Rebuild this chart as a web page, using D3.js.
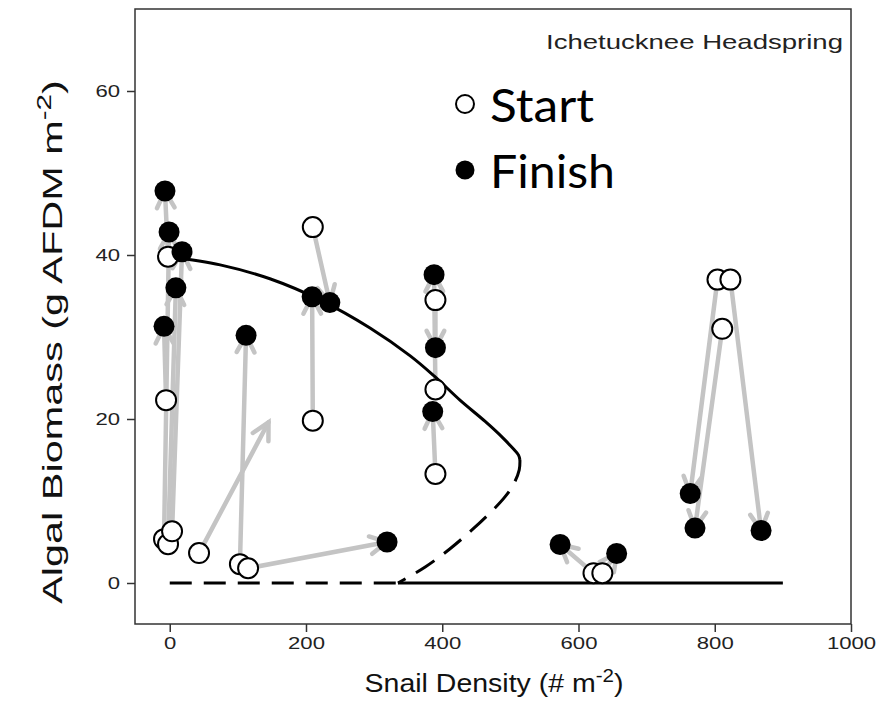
<!DOCTYPE html>
<html><head><meta charset="utf-8">
<script src="https://cdn.jsdelivr.net/npm/d3@7/dist/d3.min.js"></script>
<style>body{margin:0;background:#fff}svg{display:block}</style>
</head><body>
<svg id="c" width="882" height="721"></svg>
<script>
// ---- data ----
const xTicks = [0, 200, 400, 600, 800, 1000];
const yTicks = [0, 20, 40, 60];
// start (open) points [snail density, biomass]
const startX = [-2.5, -5.4, -8.4, -2.5, 3.4, 43, 103, 115, 210, 210, 390, 390, 390, 622, 635, 804, 823, 811];
const startY = [39.8, 22.3, 5.35, 4.74, 6.3, 3.65, 2.3, 1.8, 43.4, 19.8, 34.5, 23.6, 13.3, 1.2, 1.2, 37, 37, 31];
// finish (filled) points
const finishX = [-7, -1, 18, 9, -8.4, 112, 209, 235, 319, 388, 390, 386, 573, 656, 764, 771, 868];
const finishY = [47.8, 42.8, 40.4, 36, 31.3, 30.2, 34.9, 34.2, 5, 37.6, 28.7, 20.9, 4.7, 3.6, 10.9, 6.7, 6.4];
// arrows: from -> to
const arrowX0 = [-2.5, -5.4, -8.4, -2.5, 3.4, 43, 103, 115, 210, 210, 390, 390, 390, 622, 635, 804, 811, 823];
const arrowY0 = [39.8, 22.3, 5.35, 4.74, 6.3, 3.65, 2.3, 1.8, 43.4, 19.8, 34.5, 23.6, 13.3, 1.2, 1.2, 37, 31, 37];
const arrowX1 = [-7, -8.4, -1, 9, 18, 145, 112, 319, 235, 209, 390, 388, 386, 573, 656, 764, 771, 868];
const arrowY1 = [47.8, 31.3, 42.8, 36, 40.4, 19.6, 30.2, 5, 34.2, 34.9, 28.7, 37.6, 20.9, 4.7, 3.6, 10.9, 6.7, 6.4];
// equilibrium curve: stable upper branch (solid) and unstable middle branch (dashed)
const upperX = [0, 74, 147, 221, 294, 353, 388, 426, 463, 489, 505, 512, 514];
const upperY = [39.8, 38.8, 37.1, 34.5, 31.1, 27.7, 25.25, 22.3, 19.7, 17.7, 16.3, 15.6, 15.0];
const middleX = [514, 513, 505, 492, 472, 444, 411, 375, 335];
const middleY = [15.0, 13.8, 12.1, 10.5, 8.7, 6.5, 4.15, 1.95, 0];
// zero-biomass equilibrium: unstable (dashed) then stable (solid)
const zeroDashX = [0, 335];
const zeroSolidX = [335, 900];

// ---- drawing ----
const svg = d3.select('#c');
const x = d3.scaleLinear().domain([-51, 1000]).range([135, 851]);
const y = d3.scaleLinear().domain([-5, 70]).range([624, 9]);
const FONT = '"Liberation Sans", Arial, sans-serif';

function stretch(sel, k) {
  sel.each(function () {
    const w = this.getComputedTextLength();
    d3.select(this).attr('textLength', w * k).attr('lengthAdjust', 'spacingAndGlyphs');
  });
}

// axes
const gx = svg.append('g').attr('transform', 'translate(0,624)')
  .call(d3.axisBottom(x).tickValues(xTicks).tickSize(8).tickPadding(5).tickFormat(d3.format('d')));
const gy = svg.append('g').attr('transform', 'translate(135,0)')
  .call(d3.axisLeft(y).tickValues(yTicks).tickSize(8).tickPadding(7).tickFormat(d3.format('d')));
[gx, gy].forEach(g => {
  g.select('.domain').remove();
  g.selectAll('line').attr('stroke', '#333').attr('stroke-width', 1.5);
  g.selectAll('text').attr('font-family', FONT).attr('font-size', 17).attr('fill', '#222');
  stretch(g.selectAll('text'), 1.3);
});
gy.selectAll('text').attr('dy', '0.35em');

// arrows
const gray = '#c4c4c4';
const ga = svg.append('g').attr('stroke', gray).attr('stroke-width', 4.5).attr('stroke-linecap', 'round').attr('fill', 'none');
arrowX0.forEach((_, i) => {
  const x0 = x(arrowX0[i]), y0 = y(arrowY0[i]), x1 = x(arrowX1[i]), y1 = y(arrowY1[i]);
  const a = Math.atan2(y1 - y0, x1 - x0), L = 19, t = Math.PI / 6.5;
  ga.append('line').attr('x1', x0).attr('y1', y0).attr('x2', x1).attr('y2', y1);
  ga.append('path').attr('stroke-linejoin', 'miter')
    .attr('d', `M${x1 - L * Math.cos(a - t)},${y1 - L * Math.sin(a - t)}L${x1},${y1}L${x1 - L * Math.cos(a + t)},${y1 - L * Math.sin(a + t)}`);
});

// curves
const lineLin = d3.line().x(d => x(d[0])).y(d => y(d[1]));
const lineSm = d3.line().x(d => x(d[0])).y(d => y(d[1])).curve(d3.curveCatmullRom.alpha(0.5));
const gc = svg.append('g').attr('fill', 'none').attr('stroke', '#000').attr('stroke-width', 3);
gc.append('path').attr('d', lineSm(upperX.map((v, i) => [v, upperY[i]])));
gc.append('path').attr('stroke-dasharray', '22,12').attr('d', lineSm(middleX.map((v, i) => [v, middleY[i]])));
gc.append('path').attr('stroke-dasharray', '22,12').attr('d', lineLin(zeroDashX.map(v => [v, 0])));
gc.append('path').attr('d', lineLin(zeroSolidX.map(v => [v, 0])));

// points
svg.append('g').selectAll('circle').data(startX).join('circle')
  .attr('cx', (d) => x(d)).attr('cy', (d, i) => y(startY[i])).attr('r', 10)
  .attr('fill', '#fff').attr('stroke', '#000').attr('stroke-width', 2);
svg.append('g').selectAll('circle').data(finishX).join('circle')
  .attr('cx', (d) => x(d)).attr('cy', (d, i) => y(finishY[i])).attr('r', 10.5)
  .attr('fill', '#000');

// box
svg.append('rect').attr('x', 135).attr('y', 9).attr('width', 716).attr('height', 615)
  .attr('fill', 'none').attr('stroke', '#333').attr('stroke-width', 1.5);

// site label
svg.append('text').attr('x', 843).attr('y', 49).attr('text-anchor', 'end')
  .attr('font-family', FONT).attr('font-size', 21).attr('fill', '#222')
  .attr('textLength', 297).attr('lengthAdjust', 'spacingAndGlyphs').text('Ichetucknee Headspring');

// legend
const LF = 'Lato, "Open Sans", sans-serif';
const lg = svg.append('g');
lg.append('circle').attr('cx', 465).attr('cy', 104).attr('r', 9).attr('fill', '#fff').attr('stroke', '#000').attr('stroke-width', 2);
lg.append('circle').attr('cx', 465).attr('cy', 170).attr('r', 9.5).attr('fill', '#000');
lg.append('text').attr('x', 490).attr('y', 122).attr('font-family', LF).attr('font-size', 46)
  .attr('textLength', 104).attr('lengthAdjust', 'spacingAndGlyphs').text('Start');
lg.append('text').attr('x', 490).attr('y', 188).attr('font-family', LF).attr('font-size', 46)
  .attr('textLength', 125).attr('lengthAdjust', 'spacingAndGlyphs').text('Finish');

// axis titles
const xt = svg.append('text').attr('transform', 'translate(494,692) scale(1.14,1)').attr('text-anchor', 'middle')
  .attr('font-family', FONT).attr('font-size', 25).attr('fill', '#111');
xt.append('tspan').text('Snail Density (# m');
xt.append('tspan').attr('dy', -10).attr('font-size', 18).text('-2');
xt.append('tspan').attr('dy', 10).text(')');

const yt = svg.append('text').attr('transform', 'translate(62,342) rotate(-90) scale(1.48,1)').attr('text-anchor', 'middle')
  .attr('font-family', FONT).attr('font-size', 28).attr('fill', '#111');
yt.append('tspan').text('Algal Biomass (g AFDM m');
yt.append('tspan').attr('dy', -11).attr('font-size', 20).text('-2');
yt.append('tspan').attr('dy', 11).text(')');
</script>
</body></html>
